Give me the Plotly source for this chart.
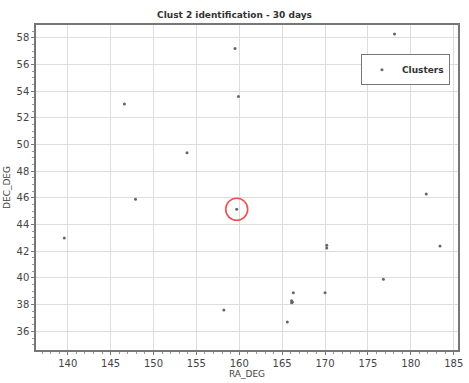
import plotly.graph_objects as go

ra_deg = [178.1, 159.5, 146.6, 159.9, 153.9, 147.9, 139.6, 159.7, 170.2, 170.2,
          181.8, 183.4, 176.8, 166.3, 170.0, 166.1, 166.1, 166.2, 158.2, 165.6]
dec_deg = [58.3, 57.2, 53.05, 53.6, 49.4, 45.9, 43.0, 45.15, 42.45, 42.25,
           46.3, 42.4, 39.9, 38.9, 38.9, 38.3, 38.15, 38.2, 37.6, 36.7]
highlight_ra = [159.7]
highlight_dec = [45.15]

fig = go.Figure()
fig.add_trace(go.Scatter(x=ra_deg, y=dec_deg, mode="markers", name="<b>Clusters</b>",
                         marker=dict(size=3, color="#666666")))
fig.add_trace(go.Scatter(x=highlight_ra, y=highlight_dec, mode="markers", showlegend=False,
                         marker=dict(size=22, color="rgba(0,0,0,0)",
                                     line=dict(color="#f05050", width=1.6))))

axis_common = dict(showline=True, linecolor="#777777", linewidth=1.5, mirror=True,
                   showgrid=True, gridcolor="#dddddd", gridwidth=1, zeroline=False,
                   ticks="outside", ticklen=3, tickcolor="#777777",
                   tickfont=dict(family="DejaVu Sans", size=10, color="#444444"),
                   minor=dict(ticks="outside", ticklen=2, tickcolor="#999999", showgrid=False))

fig.update_layout(
    width=469, height=383,
    margin=dict(l=36, r=6, t=25, b=24),
    paper_bgcolor="white", plot_bgcolor="white",
    title=dict(text="<b>Clust 2 identification - 30 days</b>", x=0.5, xanchor="center",
               y=1 - 15 / 383, yanchor="middle",
               font=dict(family="DejaVu Sans", size=9, color="#333333")),
    xaxis=dict(range=[136.3, 185.5], dtick=5, tick0=140,
               title=dict(text="RA_DEG", standoff=2,
                          font=dict(family="DejaVu Sans", size=9, color="#444444")),
               **axis_common),
    yaxis=dict(range=[34.6, 58.97], dtick=2, tick0=36,
               title=dict(text="DEC_DEG", standoff=4,
                          font=dict(family="DejaVu Sans", size=9, color="#444444")),
               **axis_common),
    legend=dict(x=0.77, y=0.91, xanchor="left", yanchor="top",
                bgcolor="white", bordercolor="#777777", borderwidth=1,
                font=dict(family="DejaVu Sans", size=9, color="#333333"),
                itemwidth=30, tracegroupgap=0),
    showlegend=True,
)

fig.write_html("out.html")
